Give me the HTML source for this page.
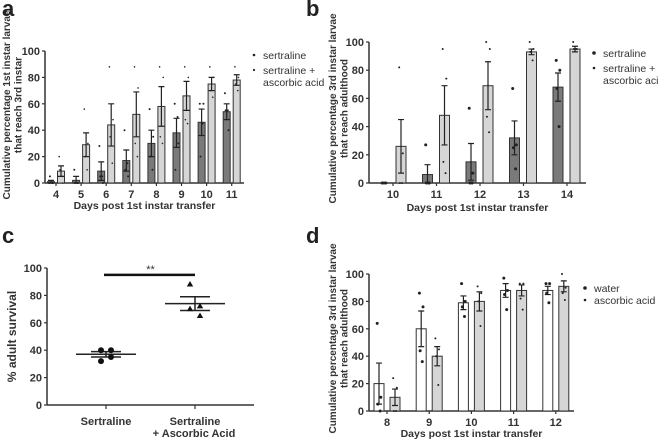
<!DOCTYPE html>
<html><head><meta charset="utf-8"><style>
html,body{margin:0;padding:0;background:#fff;}
svg{display:block;font-family:"Liberation Sans",Arial,sans-serif;}
</style></head><body>
<svg id="fig" width="658" height="442" viewBox="0 0 658 442" xmlns="http://www.w3.org/2000/svg"></svg>
<script>
// Panel a data
const aDays = ["4","5","6","7","8","9","10","11"];
const aSert = [1,2,9,17,30,38,46,54];
const aSertErr = [1,3,7,8,10,11,10,6];
const aAsc = [9,29,44,52,58,66,75,78];
const aAscErr = [4,9,16,17,15,11,5,4];
const aSertPts = [[0,0,5,0],[10,0,0,0],[28,0,5,5],[40,5,10,15],[56,35,20,10],[60,30,10,50],[60,60,20,45],[68,40,55,55]];
const aAscPts = [[20,0,10,5],[56,30,20,10],[88,48,35,15],[88,72,30,20],[88,80,35,30],[88,80,48,45],[88,80,70,65],[88,80,75,70]];
// Panel b data
const bDays = ["10","11","12","13","14"];
const bSert = [0,6,15,32,68];
const bSertErr = [0,7,13,12,10];
const bAsc = [26,48,69,93,95];
const bAscErr = [19,21,17,2,2];
const bSertPts = [[0,0,0,0],[27,0,0,0],[53,7,0,0],[67,27,25,10],[87,80,67,40]];
const bAscPts = [[82,21,0,0],[95,74,15,7],[100,95,47,36],[100,95,93,87],[100,95,95,95]];
// Panel c data
const cGroups = ["Sertraline","Sertraline|+ Ascorbic Acid"];
const cMeans = [37,74];
const cSem = [2,5];
const cPts = [[40,40,32,35],[88,72,70,65]];
// Panel d data
const dDays = ["8","9","10","11","12"];
const dWater = [20,60,79,88,88];
const dWaterErr = [15,13,5,5,3];
const dAsc = [10,40,80,88,91];
const dAscErr = [6,7,7,4,4];
const dWaterPts = [[64,10,5,0],[86,76,44,36],[93,80,76,69],[97,88,85,74],[93,93,86,79]];
const dAscPts = [[24,17,0,0],[53,45,40,19],[91,86,80,62],[93,93,82,74],[100,90,86,81]];
const yTicks = [0,20,40,60,80,100];

const NS="http://www.w3.org/2000/svg";
const svg=document.getElementById('fig');
function mk(tag,attrs,parent,text){const e=document.createElementNS(NS,tag);for(const k in attrs)e.setAttribute(k,attrs[k]);if(text!==undefined)e.textContent=text;(parent||svg).appendChild(e);return e;}
const TC="#333";

function axes(g,x0,x1,yTop,yBot,yScale){
  const ax=mk('line',{x1:x0,y1:yTop,x2:x0,y2:yBot,stroke:TC,'stroke-width':1.5},g);
  
  const bx=mk('line',{x1:x0,y1:yBot,x2:x1,y2:yBot,stroke:TC,'stroke-width':1.5},g);
  
  yTicks.forEach(v=>{const y=yScale(v);
    mk('line',{x1:x0-3,y1:y,x2:x0,y2:y,stroke:TC,'stroke-width':1.2},g);
    const t=mk('text',{x:x0-5,y:y+4,'text-anchor':'end','font-size':11,'font-weight':'bold',fill:TC},g,String(v));
    
  });
}
function ylabel(g,x,yc,lines,fs){
  lines.forEach((l,i)=>{const t=mk('text',{x:0,y:0,transform:`translate(${x+i*11.5},${yc}) rotate(-90)`,'text-anchor':'middle','font-size':fs||10,'font-weight':'bold',fill:TC},g,l);
    });
}
function panelLabel(x,y,s){const t=mk('text',{x:x,y:y,'font-size':22,'font-weight':'bold',fill:'#222'},svg,s);
  }

function barPanel(cfg){
  const g=mk('g',{});
  const ys=v=>cfg.yBot-(cfg.yBot-cfg.yTop)*v/100;
  const xs=i=>cfg.c0+i*cfg.step;
  axes(g,cfg.x0,cfg.x1,cfg.yTop,cfg.yBot,ys);
  cfg.cats.forEach((c,i)=>{
    mk('line',{x1:xs(i),y1:cfg.yBot,x2:xs(i),y2:cfg.yBot+3,stroke:TC,'stroke-width':1.2},g);
    const t=mk('text',{x:xs(i),y:cfg.yBot+15,'text-anchor':'middle','font-size':11,'font-weight':'bold',fill:TC},g,c);
    
  });
  cfg.series.forEach((s,si)=>{
    s.vals.forEach((v,i)=>{
      const cx=xs(i)+s.off, w=cfg.bw;
      const r=mk('rect',{x:cx-w/2,y:ys(v),width:w,height:cfg.yBot-ys(v),fill:s.fill,stroke:'#333','stroke-width':1},g);
      
      const e=s.err[i];
      if(e>0){
        const eb=mk('path',{d:`M${cx},${ys(v+e)}V${ys(Math.max(0,v-e))}M${cx-3},${ys(v+e)}h6M${cx-3},${ys(Math.max(0,v-e))}h6`,stroke:'#222','stroke-width':1.2,fill:'none'},g);
        
      }
      s.pts[i].forEach((p,k)=>{
        const px=cx+(k%2?1.8:-1.8)*(k<2?1:0.6);
        const d=mk('circle',{cx:px,cy:ys(p),r:s.pr,fill:'#222'},g);
        
      });
    });
  });
  ylabel(g,cfg.ylx,(cfg.yTop+cfg.yBot)/2+cfg.yldy,cfg.ylab);
  const xt=mk('text',{x:(cfg.x0+cfg.x1)/2,y:cfg.yBot+cfg.xtdy,'text-anchor':'middle','font-size':10.5,'font-weight':'bold',fill:TC},g,'Days post 1st instar transfer');
  
  cfg.legend.forEach((l,i)=>{
    const lg=mk('g',{},g);
    mk('circle',{cx:cfg.lx,cy:l.y-4,r:cfg.series[i].pr+0.3,fill:'#222'},lg);
    l.lines.forEach((s,k)=>mk('text',{x:cfg.lx+9,y:l.y+k*12,'font-size':10.5,fill:TC},lg,s));
  });
}

barPanel({name:'panel-a',x0:45,x1:244,yTop:51,yBot:183,c0:56,step:25.1,bw:7,xtdy:26,
  cats:aDays,series:[
    {key:'sertraline',vals:aSert,err:aSertErr,pts:aSertPts,fill:'#7a7a7a',off:-5,pr:1},
    {key:'sertraline-ascorbic',vals:aAsc,err:aAscErr,pts:aAscPts,fill:'#d6d6d6',off:5,pr:0.8}],
  ylx:10,yldy:-12,ylab:['Cumulative percentage 1st instar larvae','that reach 3rd instar'],
  lx:254,legend:[{y:59,lines:['sertraline']},{y:74,lines:['sertraline +','ascorbic acid']}]});

barPanel({name:'panel-b',x0:369,x1:586,yTop:42,yBot:183,c0:393,step:43.5,bw:10,xtdy:28,
  cats:bDays,series:[
    {key:'sertraline',vals:bSert,err:bSertErr,pts:bSertPts,fill:'#7a7a7a',off:-9,pr:1.5},
    {key:'sertraline-ascorbic',vals:bAsc,err:bAscErr,pts:bAscPts,fill:'#d6d6d6',off:8,pr:1}],
  ylx:336,yldy:-4,ylab:['Cumulative percentage 3rd instar larvae','that reach adulthood'],
  lx:594,legend:[{y:57,lines:['sertraline']},{y:72,lines:['sertraline +','ascorbic acid']}]});

barPanel({name:'panel-d',x0:369,x1:574,yTop:274,yBot:411,c0:387,step:42.2,bw:10,xtdy:26,
  cats:dDays,series:[
    {key:'water',vals:dWater,err:dWaterErr,pts:dWaterPts,fill:'#ffffff',off:-8,pr:1.5},
    {key:'ascorbic-acid',vals:dAsc,err:dAscErr,pts:dAscPts,fill:'#d6d6d6',off:8,pr:1}],
  ylx:336,yldy:-4,ylab:['Cumulative percentage 3rd instar larvae','that reach adulthood'],
  lx:585,legend:[{y:292,lines:['water']},{y:304,lines:['ascorbic acid']}]});

// Panel c
(function(){
  const g=mk('g',{});
  const yTop=268,yBot=405,x0=47,x1=254;
  const ys=v=>yBot-(yBot-yTop)*v/100;
  const xs=i=>106+i*89;
  axes(g,x0,x1,yTop,yBot,ys);
  cGroups.forEach((c,i)=>{
    mk('line',{x1:xs(i),y1:yBot,x2:xs(i),y2:yBot+4,stroke:TC,'stroke-width':1.2},g);
    c.split('|').forEach((s,k)=>{const t=mk('text',{x:xs(i)+(k?-1:0),y:yBot+20+k*12,'text-anchor':'middle','font-size':11,'font-weight':'bold',fill:TC},g,s);
      });
    const m=cMeans[i],e=cSem[i];
    const ml=mk('line',{x1:xs(i)-30,y1:ys(m),x2:xs(i)+30,y2:ys(m),stroke:'#222','stroke-width':1.5},g);
    
    const eb=mk('path',{d:`M${xs(i)},${ys(m+e)}V${ys(m-e)}M${xs(i)-15},${ys(m+e)}h30M${xs(i)-15},${ys(m-e)}h30`,stroke:'#222','stroke-width':1.5,fill:'none'},g);
    
    cPts[i].forEach((p,k)=>{
      const dx=[-5,5,-5,5][k];
      let el;
      if(i===0) el=mk('circle',{cx:xs(i)+dx,cy:ys(p),r:3,fill:'#111'},g);
      else el=mk('path',{d:`M${xs(i)+dx},${ys(p)-3.5}l3.2,5.5h-6.4z`,fill:'#111'},g);
      
    });
  });
  const sb=mk('line',{x1:xs(0)-2,y1:ys(95),x2:xs(1),y2:ys(95),stroke:'#111','stroke-width':2.5},g);
  
  const st=mk('text',{x:(xs(0)+xs(1))/2,y:ys(95)-2,'text-anchor':'middle','font-size':11,fill:TC},g,'**');
  
  ylabel(g,16,(yTop+yBot)/2,['% adult survival'],12);
})();

panelLabel(2,16,'a');panelLabel(306,16,'b');panelLabel(2,243,'c');panelLabel(306,243,'d');
</script>
</body></html>
